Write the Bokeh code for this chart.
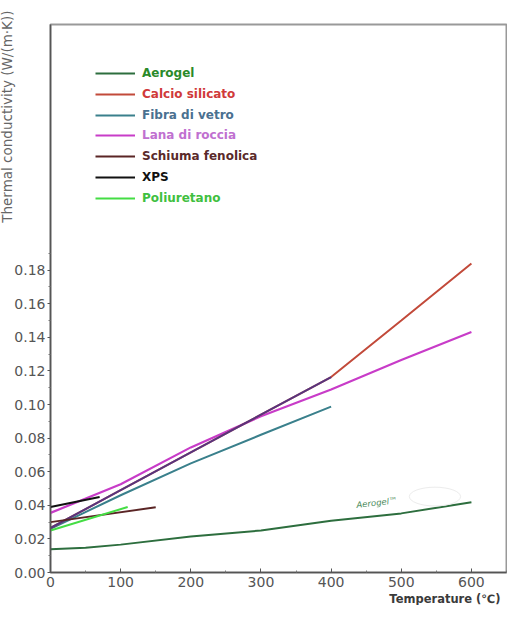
from bokeh.plotting import figure
from bokeh.models import (Range1d, FixedTicker, PrintfTickFormatter, Legend,
                          LegendItem, Label, Title)
from bokeh.embed import file_html
from bokeh.resources import INLINE

# ---------------- data ----------------
aerogel_t = [0, 50, 100, 200, 300, 400, 500, 600]
aerogel_k = [0.0138, 0.0148, 0.0166, 0.0215, 0.0250, 0.0308, 0.0352, 0.0418]

calcio_t = [0, 100, 200, 300, 400, 500, 600]
calcio_k = [0.0265, 0.0490, 0.0715, 0.0940, 0.1164, 0.1500, 0.1840]

fibra_t = [0, 100, 200, 300, 400]
fibra_k = [0.0260, 0.0460, 0.0650, 0.0820, 0.0988]

lana_t = [0, 100, 200, 300, 400, 500, 600]
lana_k = [0.0355, 0.0525, 0.0745, 0.0930, 0.1090, 0.1265, 0.1432]

schiuma_t = [0, 150]
schiuma_k = [0.0300, 0.0388]

xps_t = [0, 70]
xps_k = [0.0390, 0.0450]

poli_t = [0, 110]
poli_k = [0.0250, 0.0390]

series_names = ["Aerogel", "Calcio silicato", "Fibra di vetro", "Lana di roccia",
                "Schiuma fenolica", "XPS", "Poliuretano"]

x_ticks = [0, 100, 200, 300, 400, 500, 600]
y_ticks = [0.00, 0.02, 0.04, 0.06, 0.08, 0.10, 0.12, 0.14, 0.16, 0.18]

# ---------------- styles ----------------
line_colors = ["#2d6e3e", "#c24a3a", "#3a808c", "#c83cc8", "#5a2525", "#111111", "#44dd44"]
text_colors = ["#2a8a2a", "#d03a3a", "#4a7090", "#c070d0", "#5a2a2a", "#111111", "#40c040"]

p = figure(frame_width=456, frame_height=548, output_backend="svg", toolbar_location=None,
           x_range=Range1d(0, 650), y_range=Range1d(0, 0.3263),
           min_border_left=0, min_border_right=1, min_border_top=24, min_border_bottom=0,
           background_fill_color="white", border_fill_color="white")
p.grid.visible = False
p.outline_line_color = "#999999"
p.outline_line_width = 2

# axes
p.xaxis.ticker = FixedTicker(ticks=x_ticks, minor_ticks=[50, 150, 250, 350, 450, 550, 650])
p.yaxis.ticker = FixedTicker(ticks=y_ticks,
                             minor_ticks=[0.01, 0.03, 0.05, 0.07, 0.09, 0.11, 0.13, 0.15, 0.17, 0.19])
p.yaxis.formatter = PrintfTickFormatter(format="%.2f")
for ax in (p.xaxis, p.yaxis):
    ax.axis_line_color = "#555555"
    ax.axis_line_width = 1.5
    ax.major_tick_line_color = "#555555"
    ax.minor_tick_line_color = "#777777"
    ax.major_label_text_font = "DejaVu Sans"
    ax.major_label_text_font_size = "14px"
    ax.major_label_text_color = "#555555"
p.xaxis.major_tick_in = 4
p.xaxis.major_tick_out = 0
p.xaxis.minor_tick_in = 2
p.xaxis.minor_tick_out = 0
p.xaxis.major_label_standoff = 4
p.yaxis.major_tick_in = 0
p.yaxis.major_tick_out = 3
p.yaxis.minor_tick_in = 0
p.yaxis.minor_tick_out = 2
p.yaxis.major_label_standoff = 2

# lines
r_aer = p.line(aerogel_t, aerogel_k, line_color=line_colors[0], line_width=2)
r_fib = p.line(fibra_t, fibra_k, line_color=line_colors[2], line_width=2)
r_lan = p.line(lana_t, lana_k, line_color=line_colors[3], line_width=2.2)
r_cal = p.line(calcio_t, calcio_k, line_color=line_colors[1], line_width=2)
# the low part of the calcium-silicate line appears dark blue/purple in the picture
n400 = calcio_t.index(400) + 1
p.line(calcio_t[:n400], calcio_k[:n400], line_color="#45308a", line_width=2, line_alpha=0.85)
r_sch = p.line(schiuma_t, schiuma_k, line_color=line_colors[4], line_width=2)
r_pol = p.line(poli_t, poli_k, line_color=line_colors[6], line_width=2)
r_xps = p.line(xps_t, xps_k, line_color=line_colors[5], line_width=2)
renderers = [r_aer, r_cal, r_fib, r_lan, r_sch, r_xps, r_pol]

# covering white ellipse and the "Aerogel" note near the curve
p.ellipse(x=[548], y=[0.0452], width=73, height=0.0112, fill_color="white",
          line_color="#ececec", line_width=1)
p.add_layout(Label(x=437, y=0.0372, text="Aerogel™", angle=0.12,
                   text_font="DejaVu Sans", text_font_size="8.5px", text_font_style="italic",
                   text_color="#4a8a5a"))

# legend: one small legend per row so each label keeps its own colour
for i, (name, r, tc) in enumerate(zip(series_names, renderers, text_colors)):
    lg = Legend(items=[LegendItem(label=name, renderers=[r])],
                location=(45, 492 - 20.8 * i), padding=0, margin=0, spacing=0,
                border_line_color=None, background_fill_alpha=0,
                glyph_width=40, glyph_height=14, label_height=14, label_standoff=7,
                label_text_font="DejaVu Sans", label_text_font_style="bold",
                label_text_font_size="12px", label_text_color=tc,
                label_text_baseline="middle")
    p.add_layout(lg, "center")

# axis titles
p.add_layout(Title(text="Thermal conductivity (W/(m·K))", align="right", standoff=-7,
                   offset=-14, text_font="DejaVu Sans", text_font_size="13.5px",
                   text_font_style="normal", text_color="#666666"), "left")
p.add_layout(Title(text="Temperature (℃)", align="right", standoff=0, offset=6,
                   text_font="DejaVu Sans", text_font_size="11.5px",
                   text_font_style="bold", text_color="#3a3a3a"), "below")

open("out.html", "w").write(file_html(p, INLINE))
